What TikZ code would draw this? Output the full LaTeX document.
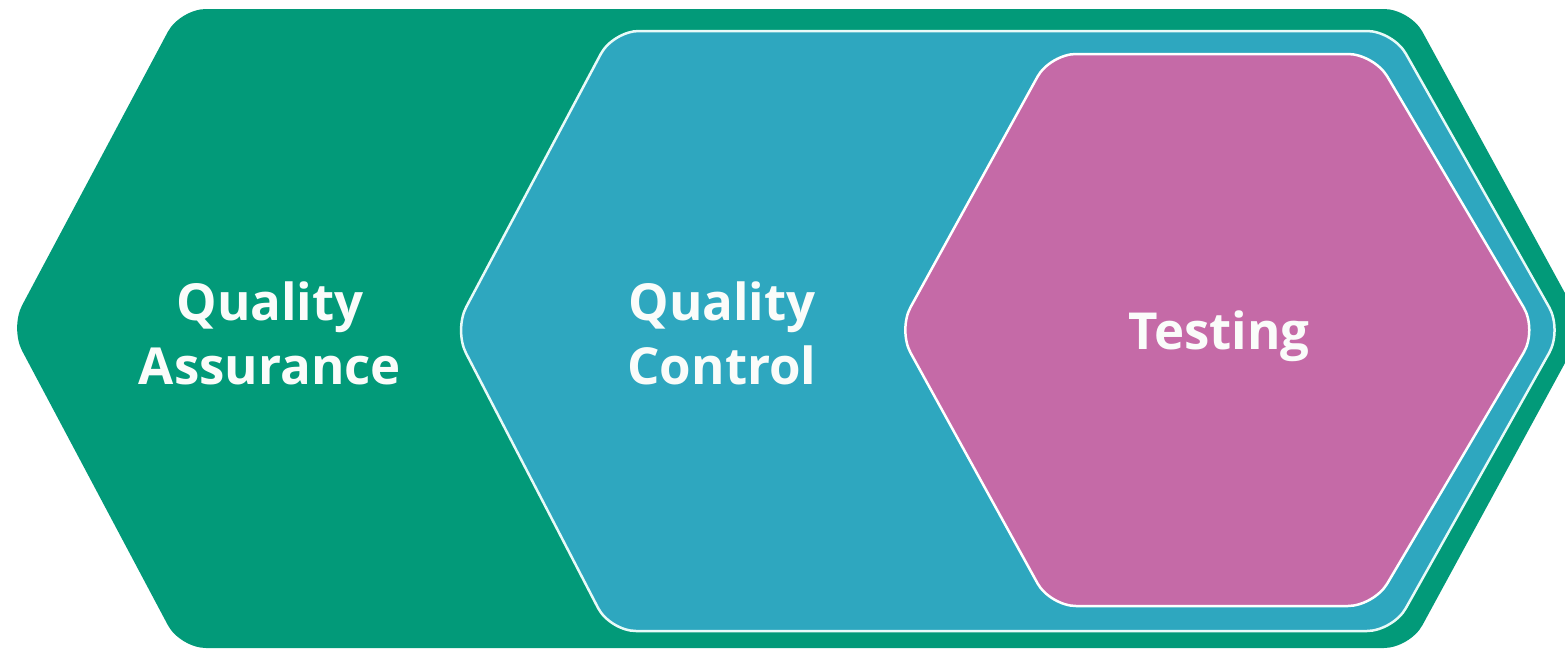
\documentclass[tikz,border=0pt]{standalone}
\usepackage{fontspec}
\setmainfont{Open Sans}
\definecolor{qagreen}{RGB}{2,154,121}
\definecolor{qcteal}{RGB}{46,167,191}
\definecolor{tpink}{RGB}{197,106,167}
\definecolor{rimwhite}{RGB}{232,250,248}
\definecolor{lbltext}{RGB}{250,252,250}
\begin{document}
\begin{tikzpicture}[x=1pt,y=-1pt,
  hexbase/.style={rounded corners=26pt},
  lbl/.style={text=lbltext,font=\fontsize{51}{64}\selectfont\bfseries,align=center,inner sep=0pt}]
\useasboundingbox (0,0) rectangle (1565,648);
\fill[white] (0,0) rectangle (1565,648);
% Quality Assurance (outer)
\fill[qagreen,hexbase] (180,9) -- (1410,9) -- (1584,328) -- (1410,648) -- (180,648) -- (10,328) -- cycle;
% Quality Control
\filldraw[fill=qcteal,draw=rimwhite,line width=2.5pt,hexbase] (613,31) -- (1393,31) -- (1562,330) -- (1393,631) -- (610,631) -- (454,330) -- cycle;
% Testing
\filldraw[fill=tpink,draw=white,line width=2.5pt,hexbase] (1050,54) -- (1374,54) -- (1537,330) -- (1374,606) -- (1050,606) -- (898,330) -- cycle;
\node[lbl] (qa) at (270,333) {Quality\\Assurance};
\node[lbl] (qc) at (722,333) {Quality\\Control};
\node[lbl] (ts) at (1219,336) {Testing};
\end{tikzpicture}
\end{document}
